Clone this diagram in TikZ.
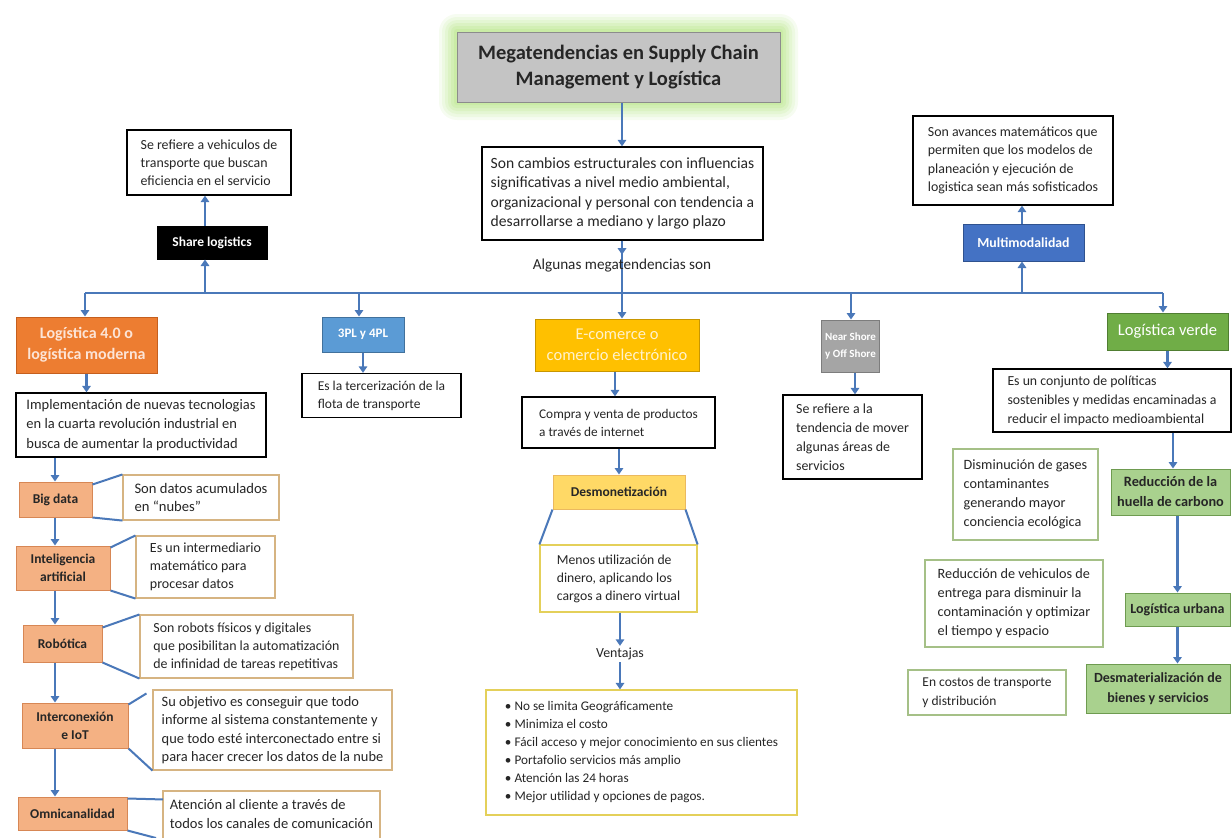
\documentclass[tikz,border=0pt]{standalone}
\usepackage{fontspec}
\setmainfont{Carlito}
\usetikzlibrary{arrows.meta}
\definecolor{connc}{RGB}{74,120,185}
\definecolor{txt}{RGB}{38,38,38}
\definecolor{glowc}{RGB}{175,228,120}
\definecolor{titlef}{RGB}{196,196,196}
\definecolor{titled}{RGB}{140,140,140}
\definecolor{orangef}{RGB}{237,125,49}
\definecolor{oranged}{RGB}{197,95,30}
\definecolor{orangetx}{RGB}{252,228,214}
\definecolor{salmonf}{RGB}{244,177,131}
\definecolor{salmond}{RGB}{215,135,85}
\definecolor{peachd}{RGB}{214,180,130}
\definecolor{bluef}{RGB}{91,155,213}
\definecolor{blued}{RGB}{65,113,156}
\definecolor{dbluef}{RGB}{68,114,196}
\definecolor{dblued}{RGB}{47,82,143}
\definecolor{goldf}{RGB}{255,192,0}
\definecolor{goldd}{RGB}{200,150,0}
\definecolor{goldtx}{RGB}{255,242,204}
\definecolor{lgoldf}{RGB}{255,217,102}
\definecolor{lgoldd}{RGB}{235,185,95}
\definecolor{yeld}{RGB}{228,208,90}
\definecolor{grayf}{RGB}{165,165,165}
\definecolor{grayd}{RGB}{125,125,125}
\definecolor{greenf}{RGB}{112,173,71}
\definecolor{greend}{RGB}{80,126,50}
\definecolor{lgreenf}{RGB}{169,209,142}
\definecolor{lgreend}{RGB}{110,155,80}
\definecolor{greenb}{RGB}{165,192,135}
\newcommand\fsz[2]{\fontsize{#1}{#2}\selectfont}
\tikzset{
  base/.style={rectangle, inner sep=0pt, align=left, text=txt, font=\fsz{14}{18}},
  dbox/.style={base, draw=black, line width=1.3pt, fill=white},
  pbox/.style={base, draw=peachd, line width=1.1pt, fill=white},
  ybox/.style={base, draw=yeld, line width=1.2pt, fill=white},
  gbox/.style={base, draw=greenb, line width=1.1pt, fill=white},
  cbox/.style={rectangle, inner sep=0pt, align=center, line width=1pt},
  subbox/.style={cbox, fill=salmonf, draw=salmond, text=black!85, font=\bfseries\fsz{13.5}{18}},
  lgbox/.style={cbox, fill=lgreenf, draw=lgreend, text=black!85, font=\bfseries\fsz{14.3}{20}},
  line/.style={draw=connc, line width=2.4pt},
  arr/.style={line, -{Triangle[width=8.5pt,length=6.5pt]}},
  brk/.style={draw=connc, line width=2pt}
}
\begin{document}
\begin{tikzpicture}[x=1pt,y=-1pt]
\useasboundingbox[fill=white] (0,0) rectangle (1232,838);
% glow around title
\foreach \i/\o in {18/0.10,15/0.12,12/0.14,9/0.17,6/0.2,3/0.22}{
  \fill[glowc, opacity=\o, rounded corners=\i pt] ({457-\i},{32-\i}) rectangle ({780+\i},{102+\i});
}
\node[cbox, fill=titlef, draw=titled, text=txt, minimum width=323pt, minimum height=70pt,
  font=\bfseries\fsz{20.5}{26}] (title) at (618.5,67) {Megatendencias en Supply Chain\\Management y Logística};

\node[dbox, minimum width=281pt, minimum height=93pt, font=\fsz{15.6}{19.5}] (maindesc) at (622.5,193.5)
  {Son cambios estructurales con influencias\\significativas a nivel medio ambiental,\\organizacional y personal con tendencia a\\desarrollarse a mediano y largo plazo};

% junction coordinates on the horizontal line
\coordinate (hL) at (85,293);
\coordinate (hS) at (205,293);
\coordinate (h3) at (359,293);
\coordinate (hC) at (622,293);
\coordinate (hN) at (851,293);
\coordinate (hM) at (1022,293);
\coordinate (hR) at (1163,293);

% upper branches
\node[cbox, fill=black, draw=black, text=white, minimum width=110pt, minimum height=33pt,
  font=\bfseries\fsz{13.5}{15}] (share) at (212,242.5) {Share logistics};
\node[dbox, minimum width=164pt, minimum height=65pt, font=\fsz{13.9}{18}] (sharedesc) at (209,162.5)
  {Se refiere a vehiculos de\\transporte que buscan\\eficiencia en el servicio};
\node[cbox, fill=dbluef, draw=dblued, text=white, minimum width=121pt, minimum height=37pt,
  font=\bfseries\fsz{13.8}{15}] (multi) at (1023.5,242.5) {Multimodalidad};
\node[dbox, minimum width=200pt, minimum height=89pt, font=\fsz{13.9}{18.3}] (multidesc) at (1013,160.5)
  {Son avances matemáticos que\\permiten que los modelos de\\planeación y ejecución de\\logistica sean más sofisticados};

% main branches
\node[cbox, fill=orangef, draw=oranged, text=orangetx, minimum width=141pt, minimum height=56pt,
  font=\bfseries\fsz{16}{21}] (log40) at (86.5,345) {Logística 4.0 o\\logística moderna};
\node[cbox, fill=bluef, draw=blued, text=white, minimum width=82pt, minimum height=35pt,
  font=\bfseries\fsz{13}{14}] (tpl) at (363,334.5) {3PL y 4PL};
\node[cbox, fill=goldf, draw=goldd, text=goldtx, minimum width=164pt, minimum height=52pt,
  font=\fsz{16.5}{20.5}] (ecom) at (617,345) {E-comerce o\\comercio electrónico};
\node[cbox, fill=grayf, draw=grayd, text=white, minimum width=58pt, minimum height=52pt,
  font=\bfseries\fsz{11}{17}] (ns) at (850.5,346) {Near Shore\\y Off Shore};
\node[cbox, fill=greenf, draw=greend, text=white, minimum width=121pt, minimum height=37pt,
  font=\fsz{16.5}{17}] (verde) at (1167.5,331.5) {Logística verde};

% left column
\node[dbox, minimum width=250pt, minimum height=64pt, font=\fsz{14.5}{19.5}] (impl) at (141,425)
  {Implementación de nuevas tecnologias\\en la cuarta revolución industrial en\\busca de aumentar la productividad};
\node[subbox, minimum width=73pt, minimum height=35pt] (bigdata) at (55.5,499.5) {Big data};
\node[pbox, minimum width=156pt, minimum height=45pt, font=\fsz{14.6}{18.5}] (bigdesc) at (201,497.5)
  {Son datos acumulados\\en “nubes”};
\node[subbox, minimum width=94pt, minimum height=44pt] (ia) at (63,568) {Inteligencia\\artificial};
\node[pbox, minimum width=139pt, minimum height=62pt] (iadesc) at (205.5,567)
  {Es un intermediario\\matemático para\\procesar datos};
\node[subbox, minimum width=79pt, minimum height=37pt] (robot) at (62.5,643.5) {Robótica};
\node[pbox, minimum width=213pt, minimum height=63pt, font=\fsz{13.9}{18}] (robotdesc) at (246.5,646.5)
  {Son robots físicos y digitales\\que posibilitan la automatización\\de infinidad de tareas repetitivas};
\node[subbox, minimum width=106pt, minimum height=45pt] (iot) at (75,725.5) {Interconexión\\e IoT};
\node[pbox, minimum width=239pt, minimum height=80pt, font=\fsz{14.4}{18.5}] (iotdesc) at (272.5,730)
  {Su objetivo es conseguir que todo\\informe al sistema constantemente y\\que todo esté interconectado entre si\\para hacer crecer los datos de la nube};
\node[subbox, minimum width=109pt, minimum height=33pt] (omni) at (72.5,813.5) {Omnicanalidad};
\draw[draw=peachd, line width=1.1pt, fill=white] (163,791) rectangle (380,848);
\node[base, font=\fsz{14.5}{18.5}] (omnidesc) at (271.5,814)
  {Atención al cliente a través de\\todos los canales de comunicación};

% 3PL
\node[dbox, minimum width=159pt, minimum height=44pt, font=\fsz{13.5}{18}] (tpldesc) at (381.5,395.5)
  {Es la tercerización de la\\flota de transporte};

% e-commerce column
\node[dbox, minimum width=193pt, minimum height=51pt, font=\fsz{13.3}{18}] (compra) at (618.5,422.5)
  {Compra y venta de productos\\a través de internet};
\node[cbox, fill=lgoldf, draw=lgoldd, text=black!85, minimum width=132pt, minimum height=34pt,
  font=\bfseries\fsz{13.5}{15}] (desmon) at (619,492) {Desmonetización};
\node[ybox, minimum width=157pt, minimum height=67pt, font=\fsz{13.7}{18}] (desmondesc) at (618.5,578.5)
  {Menos utilización de\\dinero, aplicando los\\cargos a dinero virtual};
\node[base, inner ysep=2pt, font=\fsz{13.9}{16}] (vt) at (620,654) {Ventajas};
\node[ybox, minimum width=311pt, minimum height=125pt, font=\fsz{13.2}{18}] (ventbox) at (641.5,752.5)
  {\textbullet\ No se limita Geográficamente\\
   \textbullet\ Minimiza el costo\\
   \textbullet\ Fácil acceso y mejor conocimiento en sus clientes\\
   \textbullet\ Portafolio servicios más amplio\\
   \textbullet\ Atención las 24 horas\\
   \textbullet\ Mejor utilidad y opciones de pagos.};

% near shore
\node[dbox, minimum width=139pt, minimum height=84pt, font=\fsz{13.9}{19}] (nsdesc) at (852.5,437)
  {Se refiere a la\\tendencia de mover\\algunas áreas de\\servicios};

% green column
\node[dbox, minimum width=238pt, minimum height=63pt, font=\fsz{13.8}{19}] (conjunto) at (1112,400.5)
  {Es un conjunto de políticas\\sostenibles y medidas encaminadas a\\reducir el impacto medioambiental};
\node[lgbox, minimum width=119pt, minimum height=46pt] (huella) at (1170.5,492) {Reducción de la\\huella de carbono};
\node[lgbox, minimum width=105pt, minimum height=33pt, font=\bfseries\fsz{14}{16}] (urbana) at (1177.5,609.5) {Logística urbana};
\node[lgbox, minimum width=144pt, minimum height=49pt, font=\bfseries\fsz{14}{20}] (desmat) at (1158,688.5) {Desmaterialización de\\bienes y servicios};
\node[gbox, minimum width=145pt, minimum height=91pt, font=\fsz{14.2}{19}] (dismin) at (1025.5,494.5)
  {Disminución de gases\\contaminantes\\generando mayor\\conciencia ecológica};
\node[gbox, minimum width=178pt, minimum height=87pt, font=\fsz{14.2}{19}] (reducveh) at (1014,603.5)
  {Reducción de vehiculos de\\entrega para disminuir la\\contaminación y optimizar\\el tiempo y espacio};
\node[gbox, minimum width=158pt, minimum height=45pt, font=\fsz{13.5}{19}] (encostos) at (987,692.5)
  {En costos de transporte\\y distribución};

% ---- connectors ----
\draw[arr] (title.south -| hC) -- (maindesc.north -| hC);
\draw[line] (maindesc.south -| hC) -- (hC);
\draw[arr] (maindesc.south -| hC) -- ++(0,14);
\node[base, font=\fsz{15.2}{17}] (alg) at (622,266) {Algunas megatendencias son};
\draw[line] (hL) -- (hR);
\draw[arr] (hL) -- (log40.north -| hL);
\draw[arr] (h3) -- (tpl.north -| h3);
\draw[arr] (hC) -- (ecom.north -| hC);
\draw[arr] (hN) -- (ns.north -| hN);
\draw[arr] (hR) -- (verde.north -| hR);
\draw[arr] (hS) -- (share.south -| hS);
\draw[arr] (share.north -| hS) -- (sharedesc.south -| hS);
\draw[arr] (hM) -- (multi.south -| hM);
\draw[arr] (multi.north -| hM) -- (multidesc.south -| hM);

\coordinate (colx) at (55,0);
\draw[arr] (log40.south) -- (impl.north -| log40.south);
\draw[arr] (impl.south -| colx) -- (bigdata.north -| colx);
\draw[arr] (bigdata.south -| colx) -- (ia.north -| colx);
\draw[arr] (ia.south -| colx) -- (robot.north -| colx);
\draw[arr] (robot.south -| colx) -- (iot.north -| colx);
\draw[arr] (iot.south -| colx) -- (omni.north -| colx);

\draw[brk] ([yshift=-3pt]bigdata.north east) -- (bigdesc.north west);
\draw[brk] (bigdata.south east) -- (bigdesc.south west);
\draw[brk] ([yshift=-2pt]ia.north east) -- (iadesc.north west);
\draw[brk] (ia.south east) -- (iadesc.south west);
\draw[brk] ([yshift=-3pt]robot.north east) -- (robotdesc.north west);
\draw[brk] (robot.south east) -- (robotdesc.south west);
\draw[brk] ([yshift=-2pt]iot.north east) -- ([xshift=-6pt,yshift=-4pt]iotdesc.north west);
\draw[brk] (iot.south east) -- (iotdesc.south west);
\draw[brk] ([yshift=-2pt]omni.north east) -- (omnidesc.north west -| 163,0);
\draw[brk] (omni.south east) -- (156,838);

\draw[arr] (tpl.south) -- (tpldesc.north -| tpl.south);
\draw[arr] (ecom.south -| 615,0) -- (compra.north -| 615,0);
\draw[arr] (compra.south -| desmon) -- (desmon.north);
\draw[brk] (desmon.south west) -- (desmondesc.north west);
\draw[brk] (desmon.south east) -- (desmondesc.north east);
\draw[arr] (desmondesc.south -| vt) -- (vt.north);
\draw[arr] (vt.south) -- (ventbox.north -| vt);

\draw[arr] (ns.south -| 855,0) -- (nsdesc.north -| 855,0);
\draw[arr] (verde.south) -- (conjunto.north -| verde.south);
\draw[arr] (conjunto.south -| 1173,0) -- (huella.north -| 1173,0);
\draw[arr] (huella.south -| urbana) -- (urbana.north);
\draw[arr] (urbana.south) -- (desmat.north -| urbana.south);
\end{tikzpicture}
\end{document}
